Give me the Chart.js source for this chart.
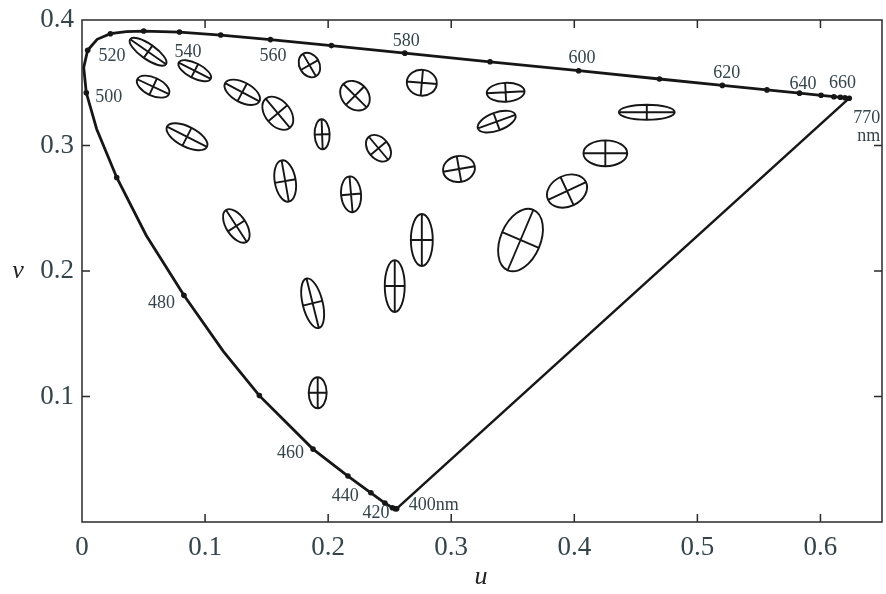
<!DOCTYPE html>
<html>
<head>
<meta charset="utf-8">
<script src="https://cdn.jsdelivr.net/npm/chart.js@4.4.1/dist/chart.umd.min.js"></script>
<style>
  html, body { margin: 0; padding: 0; background: #fff; }
  #chart { display: block; }
</style>
</head>
<body>
<canvas id="chart" width="886" height="594"></canvas>
<script>
// spectral locus in CIE 1960 (u, v)
let Wavelengths = [400, 410, 420, 430, 440, 450, 460, 470, 475, 480, 485, 490, 495, 500, 505, 510, 515, 520, 525, 530,
    540, 550, 560, 570, 580, 590, 600, 610, 620, 630, 640, 650, 660, 670, 680, 770]
let LocusU = [0.2557, 0.2545, 0.2522, 0.2461, 0.2347, 0.2161, 0.1877, 0.1441, 0.1147, 0.0828, 0.0521, 0.0282, 0.0119, 0.0035,
    0.0014, 0.0046, 0.0123, 0.0231, 0.0360, 0.0501, 0.0792, 0.1127, 0.1531, 0.2026, 0.2623, 0.3315, 0.4035, 0.4692,
    0.5203, 0.5565, 0.5830, 0.6005, 0.6109, 0.6162, 0.6199, 0.6234]
let LocusV = [0.0106, 0.0106, 0.0113, 0.0151, 0.0233, 0.0366, 0.0581, 0.1007, 0.1362, 0.1806, 0.2285, 0.2745, 0.3132, 0.3420,
    0.3621, 0.3759, 0.3846, 0.3891, 0.3908, 0.3912, 0.3904, 0.3880, 0.3844, 0.3796, 0.3736, 0.3667, 0.3596, 0.3530,
    0.3479, 0.3443, 0.3417, 0.3400, 0.3389, 0.3384, 0.3380, 0.3377]

// MacAdam ellipses (drawn x10): centre, semi axes, tilt in degrees
let EllipseU = [0.0537, 0.0916, 0.0578, 0.1302, 0.1591, 0.0853, 0.1848, 0.2218, 0.1951, 0.2409, 0.2761, 0.3442, 0.3369,
    0.3063, 0.1651, 0.2186, 0.1254, 0.2761, 0.3563, 0.1874, 0.2541, 0.4252, 0.3941, 0.4589, 0.1915]
let EllipseV = [0.3747, 0.3596, 0.3469, 0.3424, 0.3257, 0.3070, 0.3641, 0.3397, 0.3089, 0.2978, 0.3500, 0.3424, 0.3190,
    0.2813, 0.2717, 0.2611, 0.2359, 0.2247, 0.2247, 0.1743, 0.1880, 0.2938, 0.2637, 0.3265, 0.1030]
let EllipseA = [0.0178, 0.0146, 0.0142, 0.0158, 0.0154, 0.0182, 0.0105, 0.0134, 0.0122, 0.0122, 0.0122, 0.0154, 0.0162,
    0.0130, 0.0170, 0.0146, 0.0154, 0.0211, 0.0267, 0.0207, 0.0211, 0.0178, 0.0170, 0.0227, 0.0126]
let EllipseB = [0.0061, 0.0061, 0.0073, 0.0081, 0.0101, 0.0081, 0.0081, 0.0105, 0.0061, 0.0085, 0.0105, 0.0077, 0.0073,
    0.0105, 0.0085, 0.0081, 0.0081, 0.0089, 0.0162, 0.0081, 0.0081, 0.0105, 0.0126, 0.0061, 0.0073]
let EllipseAngle = [-35, -27, -25, -28, -50, -27, -60, -45, 92, -50, -5, 3, 20, 10, 100, 95, 123, 90, 67, 104, 90, 0, 25, 0, 90]

let XTicks = [0, 0.1, 0.2, 0.3, 0.4, 0.5, 0.6]
let XTickLabels = ['0', '0.1', '0.2', '0.3', '0.4', '0.5', '0.6']
let YTicks = [0.1, 0.2, 0.3, 0.4]
let YTickLabels = ['0.1', '0.2', '0.3', '0.4']

let LabelWavelengths = [400, 420, 440, 460, 480, 500, 520, 540, 560, 580, 600, 620, 640, 660, 770, 770]
let LabelTexts = ['400nm', '420', '440', '460', '480', '500', '520', '540', '560', '580', '600', '620', '640', '660', '770', 'nm']
// offset of each label's left edge / middle from its locus point, in pixels
let LabelOffsets = [[12, -3], [-30, 5], [-39, 4], [-36, 4], [-36, 8], [9, 4], [-12, 23], [-5, 20], [-11, 17],
    [-12, -12], [-10, -12], [-9, -12], [-10, -9], [-5, -13], [4, 20], [8, 38]]

let InkColor = '#161616'
let TextColor = '#34444a'

let LocusPoints = Wavelengths.map((w, i) => ({ x: LocusU[i], y: LocusV[i] }))
let PurplePoints = [LocusPoints[LocusPoints.length - 1], LocusPoints[0]]
let DotRadius = Wavelengths.map(w => (w % 10 === 0 ? 2.8 : 0))

let DiagramPlugin = {
    id: 'diagram',
    afterDatasetsDraw(chart) {
        let ctx = chart.ctx
        let area = chart.chartArea
        let x = chart.scales.x
        let y = chart.scales.y
        let pxPerUnit = x.getPixelForValue(1) - x.getPixelForValue(0)
        ctx.save()

        // ellipses with their axes
        ctx.strokeStyle = InkColor
        ctx.lineWidth = 1.9
        for (let i = 0; i < EllipseU.length; i++) {
            let cx = x.getPixelForValue(EllipseU[i])
            let cy = y.getPixelForValue(EllipseV[i])
            let rx = EllipseA[i] * pxPerUnit
            let ry = EllipseB[i] * pxPerUnit
            let t = EllipseAngle[i] * Math.PI / 180
            let c = Math.cos(t), s = Math.sin(t)
            ctx.beginPath()
            ctx.ellipse(cx, cy, rx, ry, -t, 0, Math.PI * 2)
            ctx.moveTo(cx - rx * c, cy + rx * s)
            ctx.lineTo(cx + rx * c, cy - rx * s)
            ctx.moveTo(cx - ry * s, cy - ry * c)
            ctx.lineTo(cx + ry * s, cy + ry * c)
            ctx.stroke()
        }

        // frame and inward ticks
        ctx.strokeStyle = '#2a2a2a'
        ctx.lineWidth = 1.5
        ctx.strokeRect(area.left, area.top, area.right - area.left, area.bottom - area.top)
        ctx.beginPath()
        for (let v of XTicks.slice(1)) {
            let px = x.getPixelForValue(v)
            ctx.moveTo(px, area.bottom); ctx.lineTo(px, area.bottom - 8)
            ctx.moveTo(px, area.top); ctx.lineTo(px, area.top + 8)
        }
        for (let v of YTicks.slice(0, -1)) {
            let py = y.getPixelForValue(v)
            ctx.moveTo(area.left, py); ctx.lineTo(area.left + 8, py)
            ctx.moveTo(area.right, py); ctx.lineTo(area.right - 8, py)
        }
        ctx.stroke()

        // wavelength labels
        ctx.fillStyle = TextColor
        ctx.font = '18px "Liberation Serif", serif'
        ctx.textAlign = 'left'
        ctx.textBaseline = 'middle'
        for (let i = 0; i < LabelTexts.length; i++) {
            let k = Wavelengths.indexOf(LabelWavelengths[i])
            let px = x.getPixelForValue(LocusU[k]) + LabelOffsets[i][0]
            let py = y.getPixelForValue(LocusV[k]) + LabelOffsets[i][1]
            ctx.fillText(LabelTexts[i], px, py)
        }

        // axis names
        ctx.fillStyle = '#222'
        ctx.font = 'italic 26px "Liberation Serif", serif'
        ctx.textAlign = 'center'
        ctx.fillText('v', 18, y.getPixelForValue(0.2))
        ctx.fillText('u', 481, 577)
        ctx.restore()
    }
}

new Chart(document.getElementById('chart'), {
    type: 'scatter',
    data: {
        datasets: [{
            label: 'locus',
            data: LocusPoints,
            showLine: true,
            borderColor: InkColor,
            backgroundColor: InkColor,
            borderWidth: 2.8,
            pointRadius: DotRadius,
            pointBorderWidth: 0,
            tension: 0
        }, {
            label: 'purple line',
            data: PurplePoints,
            showLine: true,
            borderColor: InkColor,
            borderWidth: 2.5,
            pointRadius: 0
        }]
    },
    plugins: [DiagramPlugin],
    options: {
        responsive: false,
        animation: false,
        layout: { padding: { top: 20, right: 2, left: 0, bottom: 0 } },
        plugins: {
            legend: { display: false },
            tooltip: { enabled: false }
        },
        scales: {
            x: {
                type: 'linear',
                min: 0,
                max: 0.65,
                grid: { display: false },
                border: { display: false },
                afterBuildTicks: scale => { scale.ticks = XTicks.map(v => ({ value: v })) },
                afterFit: scale => { scale.height = 72 },
                ticks: {
                    callback: (v) => XTickLabels[XTicks.indexOf(v)] ?? '',
                    color: TextColor,
                    font: { family: '"Liberation Serif", serif', size: 27 },
                    padding: 2,
                    maxRotation: 0
                }
            },
            y: {
                type: 'linear',
                min: 0,
                max: 0.4,
                grid: { display: false },
                border: { display: false },
                afterBuildTicks: scale => { scale.ticks = YTicks.map(v => ({ value: v })) },
                afterFit: scale => { scale.width = 82 },
                ticks: {
                    callback: (v) => YTickLabels[YTicks.indexOf(v)] ?? '',
                    color: TextColor,
                    font: { family: '"Liberation Serif", serif', size: 27 },
                    padding: 0
                }
            }
        }
    }
})
</script>
</body>
</html>
